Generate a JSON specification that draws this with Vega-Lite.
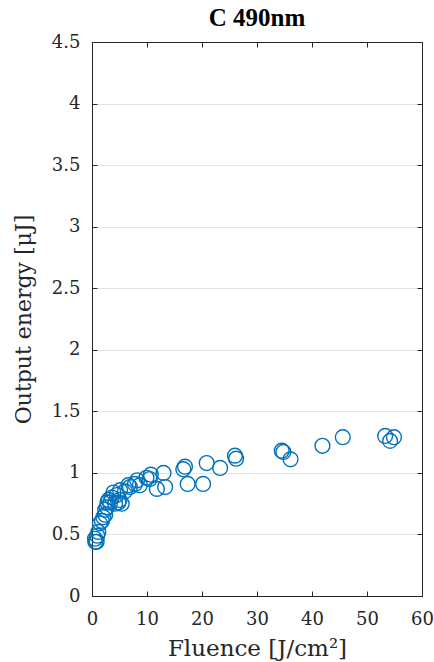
{
  "$schema": "https://vega.github.io/schema/vega-lite/v6.json",
  "autosize": {"type": "none"},
  "padding": {"left": 92, "top": 42, "right": 12, "bottom": 66},
  "width": 330,
  "height": 554,
  "background": "white",
  "title": {
    "text": "C 490nm",
    "font": "Liberation Serif",
    "fontSize": 25,
    "fontWeight": "bold",
    "color": "#000000",
    "anchor": "middle",
    "offset": 2
  },
  "config": {
    "view": {"stroke": "#262626", "strokeWidth": 1},
    "axis": {
      "labelFont": "DejaVu Serif",
      "labelFontSize": 18,
      "labelColor": "#262626",
      "labelFlush": false,
      "titleFont": "DejaVu Serif",
      "titleFontSize": 22,
      "titleFontWeight": "normal",
      "titleColor": "#262626",
      "domainColor": "#262626",
      "tickColor": "#262626",
      "tickSize": -5,
      "tickWidth": 1,
      "gridColor": "#e3e3e3",
      "gridWidth": 1,
      "format": "~r"
    }
  },
  "data": {
    "values": [
      {"fluence": 0.55, "energy": 0.465},
      {"fluence": 0.6, "energy": 0.44},
      {"fluence": 0.85, "energy": 0.44},
      {"fluence": 0.95, "energy": 0.49},
      {"fluence": 1.15, "energy": 0.52},
      {"fluence": 1.45, "energy": 0.59},
      {"fluence": 1.8, "energy": 0.61},
      {"fluence": 2.05, "energy": 0.64},
      {"fluence": 2.4, "energy": 0.66},
      {"fluence": 2.4, "energy": 0.7},
      {"fluence": 2.7, "energy": 0.72},
      {"fluence": 2.8, "energy": 0.76},
      {"fluence": 3.0, "energy": 0.78},
      {"fluence": 3.3, "energy": 0.76},
      {"fluence": 3.6, "energy": 0.8},
      {"fluence": 3.9, "energy": 0.84},
      {"fluence": 4.2, "energy": 0.75},
      {"fluence": 4.5, "energy": 0.82},
      {"fluence": 4.8, "energy": 0.76},
      {"fluence": 5.0, "energy": 0.78},
      {"fluence": 5.4, "energy": 0.75},
      {"fluence": 5.1, "energy": 0.86},
      {"fluence": 6.0, "energy": 0.85},
      {"fluence": 6.6, "energy": 0.9},
      {"fluence": 6.9, "energy": 0.885},
      {"fluence": 7.8, "energy": 0.91},
      {"fluence": 8.2, "energy": 0.94},
      {"fluence": 8.7, "energy": 0.9},
      {"fluence": 9.9, "energy": 0.96},
      {"fluence": 10.5, "energy": 0.95},
      {"fluence": 10.7, "energy": 0.985},
      {"fluence": 11.8, "energy": 0.87},
      {"fluence": 13.0, "energy": 1.0},
      {"fluence": 13.3, "energy": 0.885},
      {"fluence": 16.6, "energy": 1.03},
      {"fluence": 16.9, "energy": 1.05},
      {"fluence": 17.4, "energy": 0.91},
      {"fluence": 20.2, "energy": 0.91},
      {"fluence": 20.85, "energy": 1.08},
      {"fluence": 23.3, "energy": 1.04},
      {"fluence": 26.0, "energy": 1.14},
      {"fluence": 26.2, "energy": 1.115},
      {"fluence": 34.5, "energy": 1.18},
      {"fluence": 34.8, "energy": 1.17},
      {"fluence": 36.1, "energy": 1.11},
      {"fluence": 41.9, "energy": 1.22},
      {"fluence": 45.6, "energy": 1.29},
      {"fluence": 53.3, "energy": 1.3},
      {"fluence": 54.2, "energy": 1.26},
      {"fluence": 54.9, "energy": 1.29}
    ]
  },
  "layer": [
    {
      "mark": {"type": "point", "shape": "circle", "filled": false, "size": 220, "strokeWidth": 1.4, "color": "#0072BD", "opacity": 1},
      "encoding": {
        "x": {
          "field": "fluence", "type": "quantitative",
          "scale": {"domain": [0, 60], "nice": false, "padding": 0, "zero": false},
          "axis": {"orient": "bottom", "title": "Fluence [J/cm²]", "titleFontSize": 23, "values": [0, 10, 20, 30, 40, 50, 60], "grid": false, "labelPadding": 19, "titlePadding": 9}
        },
        "y": {
          "field": "energy", "type": "quantitative",
          "scale": {"domain": [0, 4.5], "nice": false, "padding": 0, "zero": false},
          "axis": {"orient": "left", "title": "Output energy [μJ]", "values": [0, 0.5, 1, 1.5, 2, 2.5, 3, 3.5, 4, 4.5], "grid": true, "labelPadding": 17, "titlePadding": 16}
        }
      }
    },
    {
      "mark": {"type": "point", "opacity": 0},
      "encoding": {
        "x": {
          "field": "fluence", "type": "quantitative",
          "axis": {"orient": "top", "title": null, "labels": false, "values": [0, 10, 20, 30, 40, 50, 60], "grid": false}
        },
        "y": {
          "field": "energy", "type": "quantitative",
          "axis": {"orient": "right", "title": null, "labels": false, "values": [0, 0.5, 1, 1.5, 2, 2.5, 3, 3.5, 4, 4.5], "grid": false}
        }
      }
    }
  ]
}
